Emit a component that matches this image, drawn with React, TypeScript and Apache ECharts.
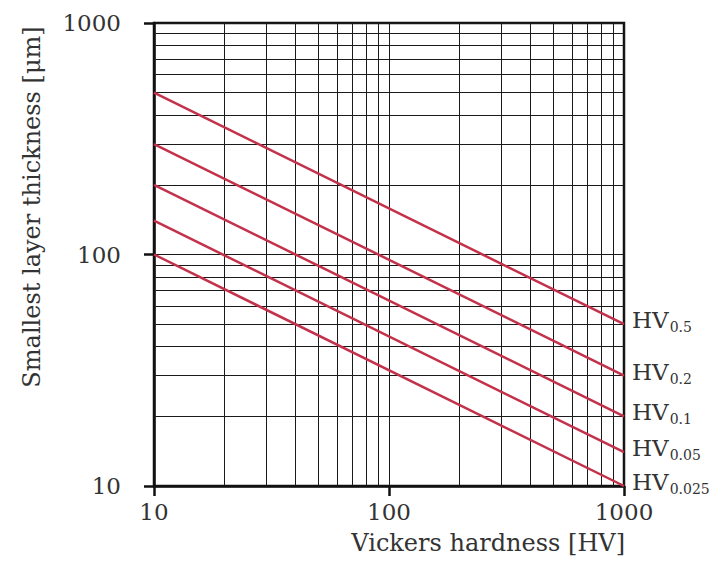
import React, { useEffect, useRef } from "react";
import * as echarts from "echarts";

const xTickValues = [10, 100, 1000];
const yTickValues = [10, 100, 1000];
const seriesSubscripts = ["0.5", "0.2", "0.1", "0.05", "0.025"];
const startValues = [500, 300, 200, 140, 100]; // thickness at HV = 10
const endValues = [50, 30, 20, 14, 10]; // thickness at HV = 1000
const minorXValues = [20, 30, 40, 50, 60, 70, 80, 90, 200, 300, 400, 500, 600, 700, 800, 900];
const minorYValues = [20, 30, 40, 50, 60, 70, 80, 90, 200, 300, 400, 500, 600, 700, 800, 900];

const FONT = '"DejaVu Serif", "Liberation Serif", serif';
const TEXT = "#333";
const GRID = "#1a1a1a";
const RED = "#c4314b";

export default function App() {
  const ref = useRef<HTMLDivElement>(null);
  useEffect(() => {
    if (!ref.current) return;
    const chart = echarts.init(ref.current, undefined, { renderer: "svg" });
    const lineSeries = seriesSubscripts.map((sub, i) => ({
      type: "line",
      name: "HV" + sub,
      data: [
        [xTickValues[0], startValues[i]],
        [xTickValues[2], endValues[i]],
      ],
      symbol: "none",
      z: 5,
      lineStyle: { color: RED, width: 2.5 },
      endLabel: {
        show: true,
        distance: 8,
        offset: [0, -4],
        formatter: `{a|HV}{b|${sub}}`,
        rich: {
          a: { fontSize: 23, fontFamily: FONT, color: TEXT },
          b: { fontSize: 14, fontFamily: FONT, color: TEXT, padding: [14, 0, 0, 1] },
        },
      },
    }));
    const fmt = (v: number) => String(v);
    chart.setOption({
      animation: false,
      backgroundColor: "#fff",
      grid: {
        left: 154,
        right: 95,
        top: 23,
        bottom: 88,
        show: true,
        borderColor: "#111",
        borderWidth: 2.5,
        backgroundColor: "#fff",
      },
      xAxis: {
        type: "log",
        logBase: 10,
        min: xTickValues[0],
        max: xTickValues[2],
        axisLine: { show: true, lineStyle: { color: "#111", width: 2.5 } },
        axisTick: { show: true, length: 10, lineStyle: { color: "#111", width: 2.5 } },
        axisLabel: { fontSize: 23, fontFamily: FONT, color: TEXT, margin: 14, formatter: fmt },
        splitLine: { show: true, lineStyle: { color: GRID, width: 1 } },
        minorTick: { show: false },
        minorSplitLine: { show: false },
      },
      yAxis: {
        type: "log",
        logBase: 10,
        min: yTickValues[0],
        max: yTickValues[2],
        axisLine: { show: true, lineStyle: { color: "#111", width: 2.5 } },
        axisTick: { show: true, length: 10, lineStyle: { color: "#111", width: 2.5 } },
        axisLabel: { fontSize: 23, fontFamily: FONT, color: TEXT, margin: 33, formatter: fmt },
        splitLine: { show: true, lineStyle: { color: GRID, width: 1 } },
        minorTick: { show: false },
        minorSplitLine: { show: false },
      },
      graphic: [
        {
          type: "text",
          right: 94,
          top: 531,
          style: { text: "Vickers hardness [HV]", font: `24px ${FONT}`, fill: TEXT },
        },
        {
          type: "text",
          x: 32,
          y: 207,
          rotation: Math.PI / 2,
          style: {
            text: "Smallest layer thickness [μm]",
            font: `24px ${FONT}`,
            fill: TEXT,
            align: "center",
            verticalAlign: "middle",
          },
        },
      ],
      series: [
        {
          type: "line",
          name: "minor-grid",
          data: [],
          z: 1,
          silent: true,
          markLine: {
            silent: true,
            symbol: "none",
            label: { show: false },
            lineStyle: { color: GRID, width: 1, type: "solid" },
            data: [
              ...minorXValues.map((v) => ({ xAxis: v })),
              ...minorYValues.map((v) => ({ yAxis: v })),
            ],
          },
        },
        ...lineSeries,
      ],
    });
    return () => chart.dispose();
  }, []);
  return (
    <div
      ref={ref}
      style={{ position: "absolute", left: 0, top: 0, width: 719, height: 574 }}
    />
  );
}
